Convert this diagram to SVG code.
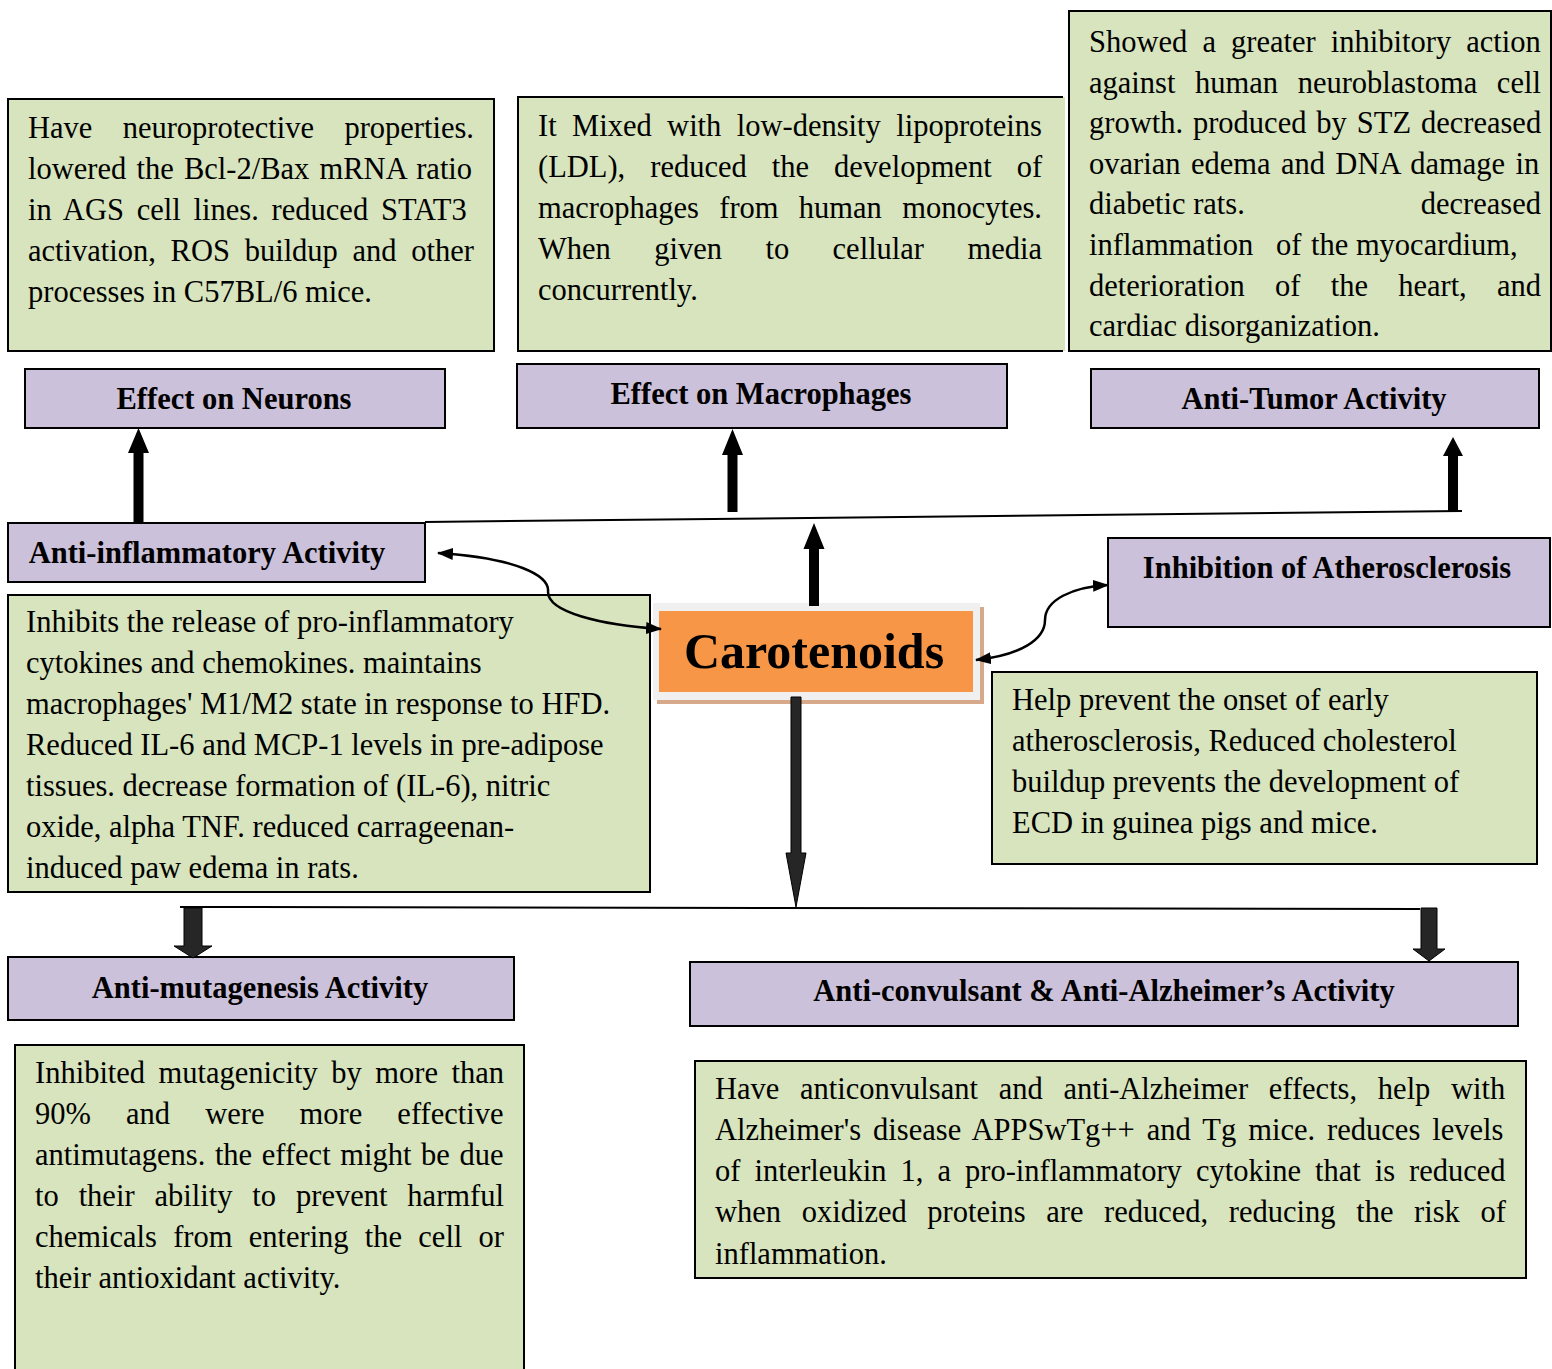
<svg xmlns="http://www.w3.org/2000/svg" width="1552" height="1369" viewBox="0 0 1552 1369">
<style>
.g{fill:#D7E4BD;stroke:#000;stroke-width:2}
.p{fill:#CCC1DA;stroke:#000;stroke-width:2}
.t{font-family:"Liberation Serif","Times New Roman",serif;font-size:30.5px;fill:#000}
.h{font-family:"Liberation Serif","Times New Roman",serif;font-size:30.5px;font-weight:bold;fill:#000;text-anchor:middle}
.ln{fill:none;stroke:#000;stroke-width:2}
.cv{fill:none;stroke:#000;stroke-width:2.5}
.up{fill:#000}
.dn{fill:#262626;stroke:#000;stroke-width:1}
</style>
<defs>
<marker id="ah" viewBox="0 0 16 12" refX="15" refY="6" markerWidth="16" markerHeight="12" markerUnits="userSpaceOnUse" orient="auto-start-reverse">
<path d="M0,0 L16,6 L0,12 Z" fill="#000"/>
</marker>
</defs>
<rect width="1552" height="1369" fill="#fff"/>

<g id="neurons-text">
<rect class="g" x="8" y="99" width="486" height="252"/>
<text class="t" x="28" y="138" style="word-spacing:22.7px">Have neuroprotective properties.</text>
<text class="t" x="28" y="179" style="word-spacing:2.6px">lowered the Bcl-2/Bax mRNA ratio</text>
<text class="t" x="28" y="220" style="word-spacing:5.2px">in AGS cell lines. reduced STAT3</text>
<text class="t" x="28" y="261" style="word-spacing:7.1px">activation, ROS buildup and other</text>
<text class="t" x="28" y="302">processes in C57BL/6 mice.</text>
</g>

<g id="macrophages-text">
<rect x="518" y="97" width="547" height="254" fill="#D7E4BD"/>
<path class="ln" d="M1063,97 H518 V351 H1063"/>
<text class="t" x="538" y="136" style="word-spacing:7.8px">It Mixed with low-density lipoproteins</text>
<text class="t" x="538" y="177" style="word-spacing:17.4px">(LDL), reduced the development of</text>
<text class="t" x="538" y="218" style="word-spacing:12.7px">macrophages from human monocytes.</text>
<text class="t" x="538" y="259" style="word-spacing:35.8px">When given to cellular media</text>
<text class="t" x="538" y="300">concurrently.</text>
</g>

<g id="tumor-text">
<rect class="g" x="1069" y="11" width="482" height="340"/>
<text class="t" x="1089" y="52" style="word-spacing:7.5px">Showed a greater inhibitory action</text>
<text class="t" x="1089" y="92.6" style="word-spacing:12px">against human neuroblastoma cell</text>
<text class="t" x="1089" y="133.2" style="word-spacing:2.3px">growth. produced by STZ decreased</text>
<text class="t" x="1089" y="173.8" style="word-spacing:2.8px">ovarian edema and DNA damage in</text>
<text class="t" x="1089" y="214.4">diabetic rats.</text>
<text class="t" x="1541" y="214.4" text-anchor="end">decreased</text>
<text class="t" x="1089" y="255">inflammation</text>
<text class="t" x="1276" y="255">of</text>
<text class="t" x="1311" y="255">the myocardium,</text>
<text class="t" x="1089" y="295.6" style="word-spacing:22.6px">deterioration of the heart, and</text>
<text class="t" x="1089" y="336.2">cardiac disorganization.</text>
</g>

<g id="effect-neurons">
<rect class="p" x="25" y="369" width="420" height="59"/>
<text class="h" x="234" y="409">Effect on Neurons</text>
</g>
<g id="effect-macrophages">
<rect class="p" x="517" y="364" width="490" height="64"/>
<text class="h" x="761" y="404">Effect on Macrophages</text>
</g>
<g id="anti-tumor">
<rect class="p" x="1091" y="369" width="448" height="59"/>
<text class="h" x="1314" y="409">Anti-Tumor Activity</text>
</g>
<g id="anti-inflammatory">
<rect class="p" x="8" y="523" width="417" height="59"/>
<text class="h" x="207" y="563">Anti-inflammatory Activity</text>
</g>
<g id="atherosclerosis">
<rect class="p" x="1108" y="538" width="442" height="89"/>
<text class="h" x="1327" y="578">Inhibition of Atherosclerosis</text>
</g>

<g id="carotenoids">
<rect x="657" y="607" width="327" height="97" fill="#D5A98A"/>
<rect x="653" y="603" width="327" height="97" fill="#F0F0F0"/>
<rect x="659" y="611" width="314" height="81" fill="#F79646"/>
<text x="814" y="668" text-anchor="middle" style="font-family:'Liberation Serif','Times New Roman',serif;font-size:50px;font-weight:bold">Carotenoids</text>
</g>

<g id="inflammatory-text">
<rect class="g" x="8" y="595" width="642" height="297"/>
<text class="t" x="26" y="632">Inhibits the release of pro-inflammatory</text>
<text class="t" x="26" y="673">cytokines and chemokines. maintains</text>
<text class="t" x="26" y="714">macrophages' M1/M2 state in response to HFD.</text>
<text class="t" x="26" y="755">Reduced IL-6 and MCP-1 levels in pre-adipose</text>
<text class="t" x="26" y="796">tissues. decrease formation of (IL-6), nitric</text>
<text class="t" x="26" y="837">oxide, alpha TNF. reduced carrageenan-</text>
<text class="t" x="26" y="878">induced paw edema in rats.</text>
</g>

<g id="atherosclerosis-text">
<rect class="g" x="992" y="672" width="545" height="192"/>
<text class="t" x="1012" y="710">Help prevent the onset of early</text>
<text class="t" x="1012" y="751">atherosclerosis, Reduced cholesterol</text>
<text class="t" x="1012" y="792">buildup prevents the development of</text>
<text class="t" x="1012" y="833">ECD in guinea pigs and mice.</text>
</g>

<g id="anti-mutagenesis">
<rect class="p" x="8" y="957" width="506" height="63"/>
<text class="h" x="260" y="998">Anti-mutagenesis Activity</text>
</g>
<g id="anti-convulsant">
<rect class="p" x="690" y="962" width="828" height="64"/>
<text class="h" x="1104" y="1001">Anti-convulsant &amp; Anti-Alzheimer’s Activity</text>
</g>

<g id="mutagenesis-text">
<rect class="g" x="15" y="1045" width="509" height="340"/>
<text class="t" x="35" y="1083" style="word-spacing:5.85px">Inhibited mutagenicity by more than</text>
<text class="t" x="35" y="1124" style="word-spacing:27.5px">90% and were more effective</text>
<text class="t" x="35" y="1165" style="word-spacing:2px">antimutagens. the effect might be due</text>
<text class="t" x="35" y="1206" style="word-spacing:12.3px">to their ability to prevent harmful</text>
<text class="t" x="35" y="1247" style="word-spacing:8.6px">chemicals from entering the cell or</text>
<text class="t" x="35" y="1288">their antioxidant activity.</text>
</g>

<g id="alzheimer-text">
<rect class="g" x="695" y="1061" width="831" height="217"/>
<text class="t" x="715" y="1099" style="word-spacing:13.1px">Have anticonvulsant and anti-Alzheimer effects, help with</text>
<text class="t" x="715" y="1140" style="word-spacing:4.4px">Alzheimer's disease APPSwTg++ and Tg mice. reduces levels</text>
<text class="t" x="715" y="1181" style="word-spacing:6.4px">of interleukin 1, a pro-inflammatory cytokine that is reduced</text>
<text class="t" x="715" y="1222" style="word-spacing:13px">when oxidized proteins are reduced, reducing the risk of</text>
<text class="t" x="715" y="1264">inflammation.</text>
</g>

<g id="connectors">
<line class="ln" x1="425" y1="522" x2="1462" y2="511"/>
<line class="ln" x1="180" y1="907" x2="1420" y2="909"/>
<polygon class="up" points="133.5,523 133.5,453 128,453 138.5,428 149,453 143.5,453 143.5,523"/>
<polygon class="up" points="727.5,512 727.5,455 722,455 732.5,429 743,455 737.5,455 737.5,512"/>
<polygon class="up" points="1448,511 1448,456 1443,456 1453,437 1463,456 1458,456 1458,511"/>
<polygon class="up" points="809,606 809,549 803.5,549 814,523 824.5,549 819,549 819,606"/>
<polygon class="dn" points="791,697 791,853 786,853 796,907 806,853 801,853 801,697"/>
<polygon class="dn" points="184,908 184,946 174,946 193,958 212,946 202,946 202,908"/>
<polygon class="dn" points="1421,908 1421,949 1413,949 1429,961 1445,949 1437,949 1437,908"/>
<path class="cv" d="M438,553 C515,558 550,575 548,592 C548,612 600,625 661,629" marker-start="url(#ah)" marker-end="url(#ah)"/>
<path class="cv" d="M976,660 C1020,655 1045,640 1045,620 C1045,600 1072,587 1108,585" marker-start="url(#ah)" marker-end="url(#ah)"/>
</g>
</svg>
